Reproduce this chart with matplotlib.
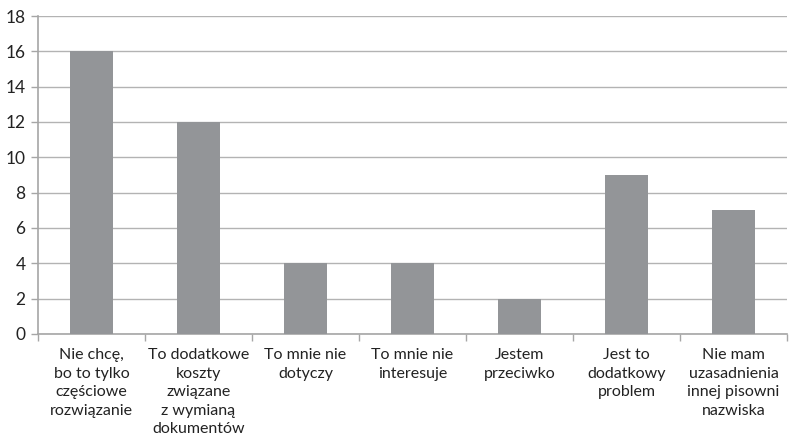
import matplotlib
matplotlib.use("Agg")
import matplotlib.pyplot as plt

categories = [
    "Nie chcę,\nbo to tylko\nczęściowe\nrozwiązanie",
    "To dodatkowe\nkoszty\nzwiązane\nz wymianą\ndokumentów",
    "To mnie nie\ndotyczy",
    "To mnie nie\ninteresuje",
    "Jestem\nprzeciwko",
    "Jest to\ndodatkowy\nproblem",
    "Nie mam\nuzasadnienia\ninnej pisowni\nnazwiska",
]
values = [16, 12, 4, 4, 2, 9, 7]
yticks = [0, 2, 4, 6, 8, 10, 12, 14, 16, 18]

plt.rcParams['font.family'] = ['Lato', 'DejaVu Sans']

fig = plt.figure(figsize=(7.97, 4.41), dpi=100)
ax = fig.add_axes([38/797, 1 - 334/441, 749/797, 318/441])

x = list(range(len(categories)))
ax.bar(x, values, width=0.41, color="#939598", zorder=3)
ax.set_xlim(-0.5, len(categories) - 0.5)
ax.set_ylim(0, 18)
ax.set_yticks(yticks)
ax.yaxis.grid(True, color="#b3b3b3", linewidth=1, zorder=0)
ax.set_axisbelow(True)

ax.set_xticks(x)
ax.set_xticklabels(categories, fontsize=11.5, linespacing=1.42, color="#222222")
ax.tick_params(axis='x', which='major', length=0, pad=10)
ax.set_xticks([i + 0.5 for i in range(-1, len(categories))], minor=True)
ax.tick_params(axis='x', which='minor', length=5, color="#a6a6a6", width=1, direction='out')
ax.tick_params(axis='y', length=5, color="#a6a6a6", width=1, labelsize=12.5, labelcolor="#222222", pad=4)

for s in ['top', 'right']:
    ax.spines[s].set_visible(False)
for s in ['left', 'bottom']:
    ax.spines[s].set_color("#a6a6a6")
    ax.spines[s].set_linewidth(1.2)

fig.savefig("out.png", dpi=100)
